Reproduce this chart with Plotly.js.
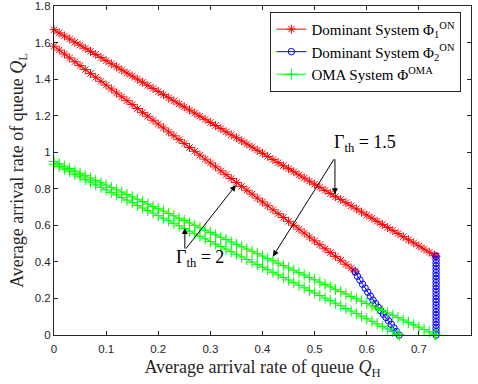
<!DOCTYPE html>
<html><head><meta charset="utf-8">
<script src="https://cdn.plot.ly/plotly-3.0.1.min.js"></script>
<style>html,body{margin:0;padding:0;background:#fff}#chart{width:478px;height:384px}</style>
</head><body><div id="chart"></div>
<script>
// Upper curves (Γth = 1.5)
const xUpper = [0,0.01,0.02,0.03,0.04,0.05,0.06,0.07,0.08,0.09,0.10,0.11,0.12,0.13,0.14,0.15,0.16,0.17,0.18,0.19,0.20,0.21,0.22,0.23,0.24,0.25,0.26,0.27,0.28,0.29,0.30,0.31,0.32,0.33,0.34,0.35,0.36,0.37,0.38,0.39,0.40,0.41,0.42,0.43,0.44,0.45,0.46,0.47,0.48,0.49,0.50,0.51,0.52,0.53,0.54,0.55,0.56,0.57,0.58,0.59,0.60,0.61,0.62,0.63,0.64,0.65,0.66,0.67,0.68,0.69,0.70,0.71,0.72,0.73,0.733];
const redUpperY = [1.670,1.653,1.636,1.619,1.602,1.586,1.569,1.552,1.535,1.518,1.501,1.484,1.467,1.450,1.433,1.417,1.400,1.383,1.366,1.349,1.332,1.315,1.298,1.281,1.264,1.248,1.231,1.214,1.197,1.180,1.163,1.146,1.129,1.112,1.095,1.079,1.062,1.045,1.028,1.011,0.994,0.977,0.960,0.943,0.926,0.910,0.893,0.876,0.859,0.842,0.825,0.808,0.791,0.774,0.757,0.741,0.724,0.707,0.690,0.673,0.656,0.639,0.622,0.605,0.588,0.572,0.555,0.538,0.521,0.504,0.487,0.470,0.453,0.436,0.431];
const greenUpperY = [0.950,0.937,0.924,0.911,0.898,0.885,0.872,0.859,0.846,0.833,0.820,0.807,0.794,0.782,0.769,0.756,0.743,0.730,0.717,0.704,0.691,0.678,0.665,0.652,0.639,0.626,0.613,0.600,0.587,0.574,0.561,0.548,0.535,0.522,0.509,0.496,0.483,0.470,0.458,0.445,0.432,0.419,0.406,0.393,0.380,0.367,0.354,0.341,0.328,0.315,0.302,0.289,0.276,0.263,0.250,0.237,0.224,0.211,0.198,0.185,0.172,0.159,0.146,0.134,0.121,0.108,0.095,0.082,0.069,0.056,0.043,0.030,0.017,0.004,0.000];
// Lower curves (Γth = 2)
const xRedLower = [0,0.01,0.02,0.03,0.04,0.05,0.06,0.07,0.08,0.09,0.10,0.11,0.12,0.13,0.14,0.15,0.16,0.17,0.18,0.19,0.20,0.21,0.22,0.23,0.24,0.25,0.26,0.27,0.28,0.29,0.30,0.31,0.32,0.33,0.34,0.35,0.36,0.37,0.38,0.39,0.40,0.41,0.42,0.43,0.44,0.45,0.46,0.47,0.48,0.49,0.50,0.51,0.52,0.53,0.54,0.55,0.56,0.57,0.578];
const redLowerY = [1.580,1.559,1.537,1.516,1.495,1.474,1.452,1.431,1.410,1.388,1.367,1.346,1.324,1.303,1.282,1.261,1.239,1.218,1.197,1.175,1.154,1.133,1.111,1.090,1.069,1.048,1.026,1.005,0.984,0.962,0.941,0.920,0.898,0.877,0.856,0.835,0.813,0.792,0.771,0.749,0.728,0.707,0.685,0.664,0.643,0.622,0.600,0.579,0.558,0.536,0.515,0.494,0.472,0.451,0.430,0.409,0.387,0.366,0.349];
const xGreenLower = [0,0.01,0.02,0.03,0.04,0.05,0.06,0.07,0.08,0.09,0.10,0.11,0.12,0.13,0.14,0.15,0.16,0.17,0.18,0.19,0.20,0.21,0.22,0.23,0.24,0.25,0.26,0.27,0.28,0.29,0.30,0.31,0.32,0.33,0.34,0.35,0.36,0.37,0.38,0.39,0.40,0.41,0.42,0.43,0.44,0.45,0.46,0.47,0.48,0.49,0.50,0.51,0.52,0.53,0.54,0.55,0.56,0.57,0.58,0.59,0.60,0.61,0.62,0.63,0.64,0.65,0.66,0.663];
const greenLowerY = [0.935,0.921,0.907,0.893,0.879,0.865,0.850,0.836,0.822,0.808,0.794,0.780,0.766,0.752,0.738,0.724,0.709,0.695,0.681,0.667,0.653,0.639,0.625,0.611,0.597,0.583,0.568,0.554,0.540,0.526,0.512,0.498,0.484,0.470,0.456,0.442,0.427,0.413,0.399,0.385,0.371,0.357,0.343,0.329,0.315,0.301,0.286,0.272,0.258,0.244,0.230,0.216,0.202,0.188,0.174,0.160,0.145,0.131,0.117,0.103,0.089,0.075,0.061,0.047,0.033,0.019,0.004,0.000];
// Blue (Φ2) segments
const xBlueDiag = [0.578,0.582,0.587,0.592,0.597,0.602,0.607,0.612,0.617,0.622,0.627,0.632,0.637,0.642,0.647,0.652,0.657,0.662];
const blueDiagY = [0.345,0.322,0.300,0.278,0.256,0.234,0.212,0.191,0.171,0.151,0.132,0.114,0.096,0.077,0.058,0.039,0.019,0.000];
const xBlueVert = [0.733,0.733,0.733,0.733,0.733,0.733,0.733,0.733,0.733,0.733,0.733,0.733,0.733,0.733,0.733,0.733,0.733,0.733,0.733,0.733,0.733,0.733,0.733,0.733,0.733];
const blueVertY = [0.431,0.413,0.395,0.377,0.359,0.341,0.323,0.305,0.287,0.269,0.251,0.233,0.215,0.197,0.180,0.162,0.144,0.126,0.108,0.090,0.072,0.054,0.036,0.018,0.000];

const xTicks = [0,0.1,0.2,0.3,0.4,0.5,0.6,0.7,0.8];
const xTickText = ['0','0.1','0.2','0.3','0.4','0.5','0.6','0.7','0.8'];
const yTicks = [0,0.2,0.4,0.6,0.8,1,1.2,1.4,1.6,1.8];
const yTickText = ['0','0.2','0.4','0.6','0.8','1','1.2','1.4','1.6','1.8'];

const names = ['Dominant System Φ<sub>1</sub><sup>ON</sup>','Dominant System Φ<sub>2</sub><sup>ON</sup>','OMA System Φ<sup>OMA</sup>'];

const red = '#ff0000', blue = '#0000ff', green = '#00ff00';
function tr(x, y, color, sym, size, name, show, group) {
  return {x: x, y: y, type: 'scatter', mode: 'lines+markers', name: name, showlegend: show, legendgroup: group,
    cliponaxis: false,
    line: {color: color, width: 1},
    marker: {symbol: sym, size: size, color: color, line: {color: color, width: 1}}};
}
const data = [
  tr(xUpper, redUpperY, red, 'asterisk-open', 7.5, names[0], true, 'a'),
  tr(xRedLower, redLowerY, red, 'asterisk-open', 7.5, names[0], false, 'a'),
  tr(xBlueDiag, blueDiagY, blue, 'circle-open', 6.5, names[1], true, 'b'),
  tr(xBlueVert, blueVertY, blue, 'circle-open', 6.5, names[1], false, 'b'),
  tr(xUpper, greenUpperY, green, 'cross-thin-open', 8, names[2], true, 'c'),
  tr(xGreenLower, greenLowerY, green, 'cross-thin-open', 8, names[2], false, 'c')
];

const serif = "'Liberation Serif', 'DejaVu Serif', serif";
const axisCommon = {showline: true, linecolor: '#262626', linewidth: 1, mirror: 'ticks', ticks: 'inside', ticklen: 4,
  tickcolor: '#262626', showgrid: false, zeroline: false, tickfont: {family: "'Liberation Sans', Arial, sans-serif", size: 11.5, color: '#262626'}};

function arrow(hx, hy, tx, ty) {
  return {x: hx, y: hy, ax: tx, ay: ty, xref: 'x', yref: 'y', axref: 'x', ayref: 'y', text: '', showarrow: true,
    arrowhead: 2, arrowsize: 1.2, arrowwidth: 1, arrowcolor: '#000'};
}

const layout = {
  width: 478, height: 384,
  font: {family: serif, color: '#000'},
  margin: {l: 54, r: 7, t: 6, b: 49},
  paper_bgcolor: '#fff', plot_bgcolor: '#fff',
  xaxis: Object.assign({}, axisCommon, {range: [0, 0.8], tickvals: xTicks, ticktext: xTickText, ticklabelstandoff: 3,
    title: {text: 'Average arrival rate of queue <i>Q</i><sub>H</sub>', font: {family: serif, size: 18, color: '#262626'}, standoff: 6}}),
  yaxis: Object.assign({}, axisCommon, {range: [0, 1.8], tickvals: yTicks, ticktext: yTickText,
    title: {text: 'Average arrival rate of queue <i>Q</i><sub>L</sub>', font: {family: serif, size: 18, color: '#262626'}, standoff: 6}}),
  legend: {x: 0.977, xanchor: 'right', y: 0.982, yanchor: 'top', bgcolor: '#fff', bordercolor: '#262626', borderwidth: 1,
    font: {family: serif, size: 15, color: '#000'}, tracegroupgap: 0, itemwidth: 30},
  showlegend: true,
  annotations: [
    {x: 0.597, y: 1.05, xref: 'x', yref: 'y', text: 'Γ<sub>th</sub> = 1.5', showarrow: false, font: {family: serif, size: 18, color: '#000'}},
    arrow(0.539, 0.77, 0.539, 0.97),
    arrow(0.42, 0.43, 0.539, 0.97),
    {x: 0.28, y: 0.42, xref: 'x', yref: 'y', text: 'Γ<sub>th</sub> = 2', showarrow: false, font: {family: serif, size: 18, color: '#000'}},
    arrow(0.251, 0.585, 0.251, 0.465),
    arrow(0.349, 0.82, 0.251, 0.465)
  ]
};
Plotly.newPlot('chart', data, layout, {staticPlot: true, displayModeBar: false});
</script></body></html>
